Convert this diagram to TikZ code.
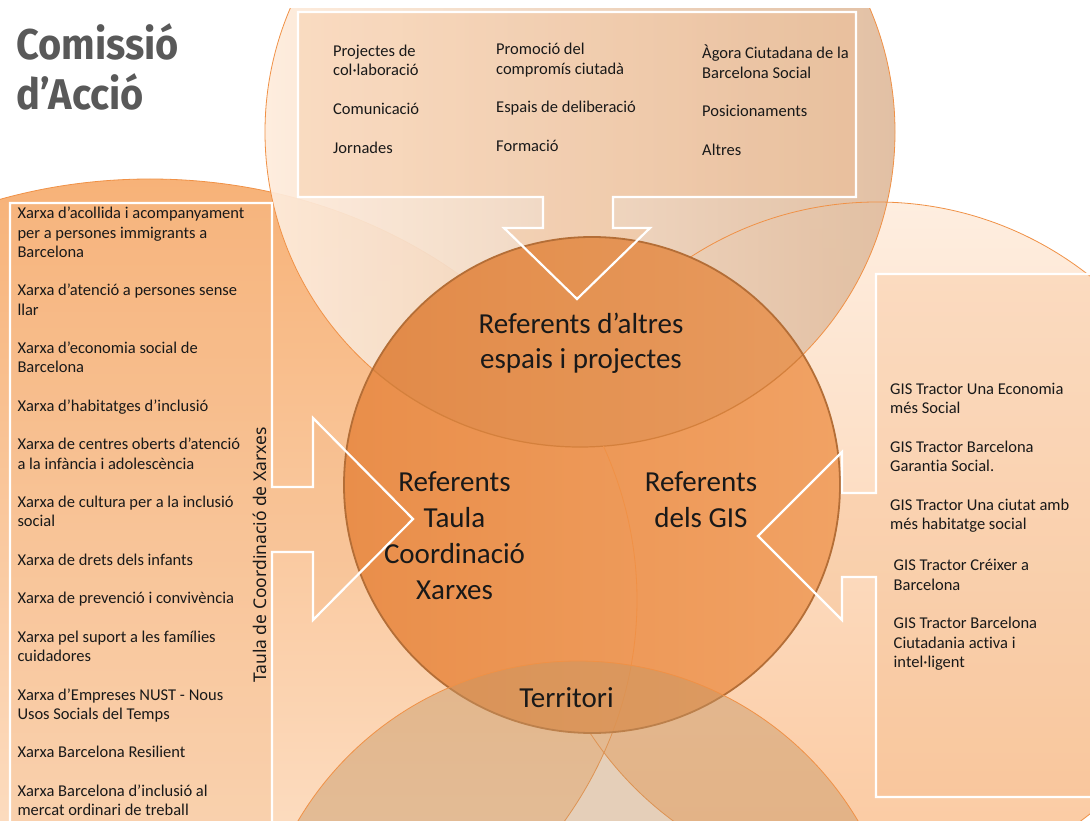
\documentclass[tikz,border=0pt]{standalone}
\usepackage{fontspec}
\setmainfont{Carlito}[Ligatures=NoCommon]
\newfontfamily\titlefont{Fira Sans}
\newfontfamily\vertfont{Noto Sans}
\definecolor{rcTop}{RGB}{254,238,224}
\definecolor{rcBot}{RGB}{251,200,158}
\definecolor{lcTop}{RGB}{247,178,120}
\definecolor{lcBot}{RGB}{254,232,212}
\definecolor{tcL}{RGB}{254,236,220}
\definecolor{tcR}{RGB}{224,188,158}
\definecolor{mcL}{RGB}{233,142,74}
\definecolor{mcR}{RGB}{241,162,100}
\definecolor{bcCol}{RGB}{198,150,100}
\definecolor{edgec}{RGB}{240,145,70}
\definecolor{medge}{RGB}{180,110,55}
\definecolor{inarc}{RGB}{212,128,60}
\definecolor{boxc}{RGB}{245,185,135}
\definecolor{ttl}{RGB}{89,89,89}
\definecolor{txtc}{RGB}{25,25,25}
\newcommand\tblock[2]{\parbox[t]{#1}{\raggedright #2}}
\newcommand\cblock[2]{\parbox[t]{#1}{\centering #2}}
\begin{document}
\begin{tikzpicture}[x=1pt,y=-1pt,
  txt/.style={inner sep=0pt, text=txtc, anchor=base west, font=\fontsize{16.5}{19.3}\selectfont},
  lbl/.style={inner sep=0pt, text=txtc, anchor=base, font=\fontsize{29}{35.5}\selectfont},
  callout/.style={draw=white, line width=2.2pt, line join=miter},
  callfill/.style={fill=boxc, fill opacity=0.3},
  edgeline/.style={draw=edgec, line width=0.8pt},
  innerarc/.style={draw=inarc, line width=1.2pt},
  topshade/.style={fill=brown!70!black, fill opacity=0.08},
  midedge/.style={draw=medge, line width=1.8pt}]
\useasboundingbox (0,0) rectangle (1090,821);
\clip (0,0) rectangle (1090,821);
\fill[white] (0,0) rectangle (1090,821);

% right circle (GIS)
\shade[top color=rcTop, bottom color=rcBot] (877,545) circle[radius=343pt];
% left shape (Taula)
\shade[top color=lcTop, bottom color=lcBot] (150,600) ellipse[x radius=487pt, y radius=421pt];
\draw[edgeline] (150,600) ellipse[x radius=487pt, y radius=421pt];
% top circle
\begin{scope}
  \clip (0,9) rectangle (1090,821);
  \shade[left color=tcL, right color=tcR, fill opacity=0.93] (580,132) circle[radius=315pt];
  \draw[edgeline] (580,132) circle[radius=315pt];
\end{scope}
\draw[edgeline] (877,545) circle[radius=343pt];

% callout fills
\fill[callfill] (298,12) -- (856,12) -- (856,197) -- (613,197) -- (613,228) -- (650,228)
  -- (577,299) -- (504,228) -- (543,228) -- (543,197) -- (298,197) -- cycle;
\fill[callfill] (10,203) -- (272,203) -- (272,487) -- (313,487) -- (313,418) -- (413,519)
  -- (313,620) -- (313,552) -- (272,552) -- (272,835) -- (10,835) -- cycle;
\fill[callfill] (876,274) -- (1100,274) -- (1100,797) -- (876,797) -- (876,577) -- (842,577)
  -- (842,620) -- (758,536) -- (842,452) -- (842,493) -- (876,493) -- cycle;

% middle circle
\shade[left color=mcL, right color=mcR] (592,485) circle[radius=248pt];
\begin{scope}
  \clip (592,485) circle[radius=248pt];
  \fill[topshade] (580,132) circle[radius=315pt];
  \draw[innerarc] (580,132) circle[radius=315pt];
  \begin{scope}
    \clip (0,446) rectangle (1090,821);
    \draw[edgeline] (150,600) ellipse[x radius=487pt, y radius=421pt];
  \end{scope}
\end{scope}
\draw[midedge] (592,485) circle[radius=248pt];

% bottom circle
\fill[bcCol, fill opacity=0.45] (578,986) circle[radius=325pt];
\draw[edgeline] (578,986) circle[radius=325pt];

% callout outlines
\draw[callout] (298,12) -- (856,12) -- (856,197) -- (613,197) -- (613,228) -- (650,228)
  -- (577,299) -- (504,228) -- (543,228) -- (543,197) -- (298,197) -- cycle;
\draw[callout] (10,203) -- (272,203) -- (272,487) -- (313,487) -- (313,418) -- (413,519)
  -- (313,620) -- (313,552) -- (272,552) -- (272,835) -- (10,835) -- cycle;
\draw[callout] (876,274) -- (1100,274) -- (1100,797) -- (876,797) -- (876,577) -- (842,577)
  -- (842,620) -- (758,536) -- (842,452) -- (842,493) -- (876,493) -- cycle;

% title
\node[inner sep=0pt, anchor=base west, text=ttl, font=\titlefont\bfseries\fontsize{43}{50.7}\selectfont]
  (title) at (16,59.3) {\scalebox{0.925}[1]{\tblock{300pt}{Comissió\\d’Acció}}};

% top box texts
\node[txt] (c1) at (333,56.7) {\tblock{200pt}{Projectes de\\col·laboració\\[19.3pt]Comunicació\\[19.3pt]Jornades}};
\node[txt] (c2) at (496,55) {\tblock{200pt}{Promoció del\\compromís ciutadà\\[19.3pt]Espais de deliberació\\[19.3pt]Formació}};
\node[txt] (c3) at (702,59) {\tblock{200pt}{Àgora Ciutadana de la\\Barcelona Social\\[19.3pt]Posicionaments\\[19.3pt]Altres}};

% left list
\node[txt, font=\fontsize{16.5}{19.25}\selectfont] (xarxes) at (17.3,219) {\tblock{300pt}{%
Xarxa d’acollida i acompanyament\\per a persones immigrants a\\Barcelona\\[19.25pt]%
Xarxa d’atenció a persones sense\\llar\\[19.25pt]%
Xarxa d'economia social de\\Barcelona\\[19.25pt]%
Xarxa d’habitatges d’inclusió\\[19.25pt]%
Xarxa de centres oberts d’atenció\\a la infància i adolescència\\[19.25pt]%
Xarxa de cultura per a la inclusió\\social\\[19.25pt]%
Xarxa de drets dels infants\\[19.25pt]%
Xarxa de prevenció i convivència\\[19.25pt]%
Xarxa pel suport a les famílies\\cuidadores\\[19.25pt]%
Xarxa d’Empreses NUST - Nous\\Usos Socials del Temps\\[19.25pt]%
Xarxa Barcelona Resilient\\[19.25pt]%
Xarxa Barcelona d’inclusió al\\mercat ordinari de treball}};

% right list
\node[txt, font=\fontsize{16.5}{19.4}\selectfont] (gis1) at (890,394) {\tblock{300pt}{%
GIS Tractor Una Economia\\més Social\\[19.4pt]%
GIS Tractor Barcelona\\Garantia Social.\\[19.4pt]%
GIS Tractor Una ciutat amb\\més habitatge social}};
\node[txt, font=\fontsize{16.5}{19.4}\selectfont] (gis2) at (893.5,570.7) {\tblock{300pt}{%
GIS Tractor Créixer a\\Barcelona\\[19.4pt]%
GIS Tractor Barcelona\\Ciutadania activa i\\intel·ligent}};

% vertical label
\node[inner sep=0pt, anchor=base, rotate=90, text=txtc, font=\vertfont\fontsize{17.5}{20}\selectfont]
  (taulav) at (266.7,555) {Taula de Coordinació de Xarxes};

% circle labels
\node[lbl] (altres) at (581,333.3) {\cblock{300pt}{Referents d’altres\\espais i projectes}};
\node[lbl, font=\fontsize{29}{35.9}\selectfont] (taula) at (454.5,491.7) {\cblock{200pt}{Referents\\Taula\\Coordinació\\Xarxes}};
\node[lbl] (gis) at (701,491.7) {\cblock{200pt}{Referents\\dels GIS}};
\node[lbl] (terr) at (566.5,707.7) {Territori};
\end{tikzpicture}
\end{document}
